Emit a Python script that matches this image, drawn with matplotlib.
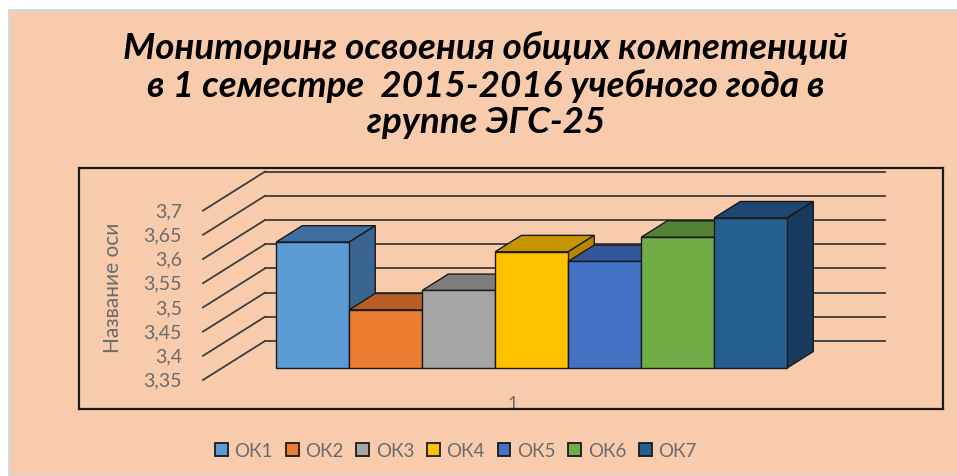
import matplotlib
matplotlib.use('Agg')
import matplotlib.pyplot as plt
from matplotlib.patches import Polygon, Patch, Rectangle
import numpy as np

plt.rcParams['font.family'] = ['Lato', 'DejaVu Sans']

# data
series = ['ОК1', 'ОК2', 'ОК3', 'ОК4', 'ОК5', 'ОК6', 'ОК7']
values = [3.61, 3.47, 3.51, 3.59, 3.57, 3.62, 3.66]
front_colors = ['#5B9BD5', '#ED7D31', '#A5A5A5', '#FFC000', '#4472C4', '#70AD47', '#255E91']
top_colors = ['#3F6F9E', '#B65E24', '#7E7E7E', '#C69500', '#33579A', '#548235', '#1D4770']
side_colors = ['#3A6590', '#A8561F', '#747474', '#B58700', '#2F508C', '#4C7630', '#183A5C']
yticks = [3.35, 3.4, 3.45, 3.5, 3.55, 3.6, 3.65, 3.7]
ytick_labels = ['3,35', '3,4', '3,45', '3,5', '3,55', '3,6', '3,65', '3,7']
category = '1'
y_base = 3.35

W, H = 957, 477
fig = plt.figure(figsize=(W / 100, H / 100), dpi=100)
fig.patch.set_facecolor('white')
fig.add_artist(Rectangle((9 / W, 0), 1, (H - 11) / H, transform=fig.transFigure,
                         facecolor='#F8CBAD', edgecolor='#D6D6D6', lw=2, zorder=-5))

# plot frame in pixels
L, R, T, B = 79, 943, 169, 410
ax = fig.add_axes([L / W, (H - B) / H, (R - L) / W, (B - T) / H])
ax.set_facecolor('none')
px_x = 73.0   # pixels per bar width
px_y = 484.0  # pixels per value unit
xmin = -0.5 - (257 - L) / px_x
ymax = y_base + (381 - T) / px_y
ax.set_xlim(xmin, xmin + (R - L) / px_x)
ax.set_ylim(ymax - (B - T) / px_y, ymax)
for s in ax.spines.values():
    s.set_color('#1a1a1a')
    s.set_linewidth(1.6)

DX = 62 / px_x
DY = 39 / px_y
f0, f1 = 0.31, 0.73
x_axis = xmin + (203 - L) / px_x
x_wall_end = xmin + (885 - L) / px_x

grid_c = '#3d3d3d'
for v, lab in zip(yticks, ytick_labels):
    ax.plot([x_axis, x_axis + DX], [v, v + DY], color=grid_c, lw=1.3, zorder=1)
    ax.plot([x_axis + DX, x_wall_end], [v + DY, v + DY], color=grid_c, lw=1.3, zorder=1)
    ax.text(x_axis - 21 / px_x, v, lab, ha='right', va='center',
            fontsize=14, color='#6b6b6b')

# 3d-looking bars
pos = np.arange(len(values))
ox, oy = f0 * DX, f0 * DY
bx, by = (f1 - f0) * DX, (f1 - f0) * DY
for i, v in enumerate(values):
    z = 3 + i * 3
    ax.bar(pos[i] + ox, v - y_base, bottom=y_base + oy, width=1.0,
           color=front_colors[i], edgecolor='#1a1a1a', lw=1.0, zorder=z + 2)
    xl, xr = pos[i] - 0.5 + ox, pos[i] + 0.5 + ox
    top = Polygon([(xl, v + oy), (xr, v + oy), (xr + bx, v + oy + by), (xl + bx, v + oy + by)],
                  closed=True, facecolor=top_colors[i], edgecolor='#1a1a1a', lw=1.0, zorder=z)
    side = Polygon([(xr, y_base + oy), (xr + bx, y_base + oy + by), (xr + bx, v + oy + by), (xr, v + oy)],
                   closed=True, facecolor=side_colors[i], edgecolor='#1a1a1a', lw=1.0, zorder=z + 1)
    ax.add_patch(top)
    ax.add_patch(side)

ax.set_yticks([])
ax.set_xticks([pos.mean()])
ax.set_xticklabels([category], fontsize=13, color='#6b6b6b')
ax.tick_params(axis='x', length=0, pad=-10)

ax.text((113 - L) / (R - L), (B - 288) / (B - T), 'Название оси', rotation=90,
        transform=ax.transAxes, ha='center', va='center', fontsize=15, color='#6b6b6b')

fig.text(486 / W, (H - 85) / H,
         'Мониторинг освоения общих компетенций\nв 1 семестре  2015-2016 учебного года в\nгруппе ЭГС-25',
         ha='center', va='center', fontsize=26.5, fontweight='bold', fontstyle='italic',
         linespacing=1.12, color='black')

handles = [Patch(facecolor=c, edgecolor='#1a1a1a', lw=1.3) for c in front_colors]
fig.legend(handles, series, loc='center', bbox_to_anchor=(456 / W, (H - 452) / H), ncol=7,
           frameon=False, fontsize=13.5, handlelength=0.68, handleheight=0.68,
           handletextpad=0.36, columnspacing=0.68, labelcolor='#6b6b6b')

plt.savefig('out.png', dpi=100, facecolor=fig.get_facecolor())
